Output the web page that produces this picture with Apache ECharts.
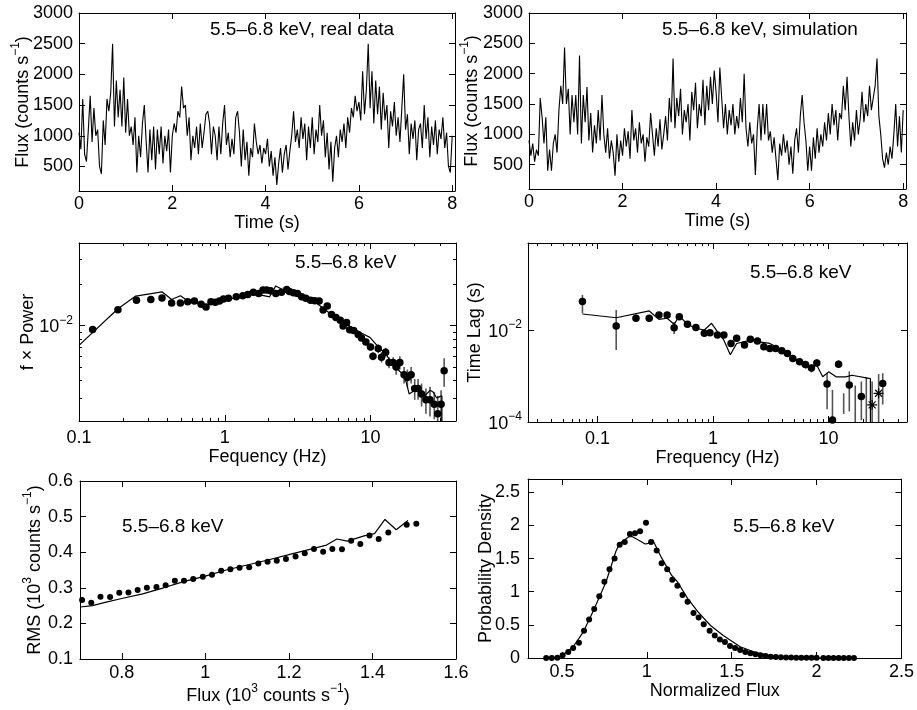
<!DOCTYPE html>
<html><head><meta charset="utf-8">
<script src="https://cdn.jsdelivr.net/npm/echarts@6/dist/echarts.min.js"></script>
<style>html,body{margin:0;padding:0;background:#fff}#c{width:917px;height:710px}</style>
</head><body><div id="c"></div>
<script>
// ---------- DATA ----------
const lcStep = 0.04; // s, sampling of the light curves
const lcReal = [1050,780,1600,700,580,1100,1650,900,1450,1000,
1100,500,380,1250,850,1600,1400,1700,2500,1150,
1900,1300,1750,1150,1950,1050,1600,1000,1150,850,
1300,400,1000,650,1200,1500,900,400,1100,600,
1150,450,1100,700,1150,550,1000,750,1100,400,
1000,1200,1050,1400,1300,1800,1450,1500,1000,1300,
600,1000,800,1150,700,1200,800,1050,1350,1400,
1200,700,1150,1000,600,1150,700,1200,1500,850,
1050,650,950,700,1300,1400,1050,500,1100,600,
900,350,800,650,1200,900,700,850,550,800,
700,950,500,750,350,650,200,550,800,400,
700,850,450,750,1000,1400,900,1100,800,1300,
950,1200,600,1150,800,1300,700,1100,900,1500,
1000,1250,650,1050,450,900,250,800,1000,650,
1100,900,1200,800,1300,1050,1450,1300,1650,1400,
1550,1250,2050,1350,1750,2500,1450,2050,1200,1900,
1350,1800,1100,1700,1250,1500,800,1400,1150,1550,
1000,1300,900,1450,2000,1100,1350,700,1200,950,
1250,600,1100,1200,800,1500,950,1300,650,1150,
850,1250,700,1100,950,1300,800,1050,500,400,
1000];
const lcSim = [900,650,850,550,750,650,1600,1280,850,1280,
400,750,400,850,1000,700,1400,1800,1500,2430,
1500,1750,1000,1650,1200,1650,1000,2300,850,1650,
1200,1780,900,1350,700,1150,850,1400,900,1650,
1000,700,1100,600,900,700,320,1000,550,900,
650,1100,800,1050,600,1400,900,1100,700,1200,
850,1000,550,950,800,1350,1000,650,1100,800,
1250,750,1000,1300,900,1600,1200,2250,1100,1600,
1300,1750,1000,1400,1200,1500,900,1700,1400,1850,
1100,1500,1300,1900,1150,1800,1400,1950,1500,2050,
1700,1200,2100,1600,1100,1500,1000,1400,1150,1500,
1000,1300,1100,1600,1200,2000,1100,800,1200,850,
1000,330,1100,1500,900,1500,1000,1500,900,1050,
700,950,600,250,850,650,1000,700,900,500,
800,350,900,1100,700,1300,1650,1200,900,400,
800,400,950,600,1100,700,1000,800,1200,900,
1350,1000,1500,1150,1400,900,1350,1250,1800,1400,
1950,1300,800,1200,900,1400,1000,1250,1700,1200,
1500,1300,1800,1400,1600,1800,2250,1300,1000,600,
450,700,500,800,600,1000,1500,800,1300,700,
1400];

const psdFreq = [0.124,0.185,0.248,0.311,0.371,0.432,0.496,0.557,0.619,0.688,0.744,0.804,0.861,0.92,0.98,1.06,1.20,1.33,1.44,1.57,1.71,1.83,1.94,2.06,2.24,2.45,2.66,2.78,2.96,3.15,3.37,3.60,3.88,4.14,4.44,4.73,5.05,5.40,5.79,6.20,6.49,6.85,7.20,7.66,8.23,8.67,9.30,10.0,10.4,11.3,11.9,12.7,13.4,14.3,15.0,15.9,17.0,17.9,19.0,20.1,21.2,22.4,24.0,25.6,27.4,28.9,30.5,32.0];
const psdPow = [0.00935,0.0130,0.0152,0.0154,0.0158,0.0145,0.0145,0.0148,0.0150,0.0142,0.0136,0.0148,0.0147,0.0150,0.0155,0.0157,0.0161,0.0164,0.0167,0.0174,0.0170,0.0180,0.0180,0.0178,0.0170,0.0174,0.0182,0.0176,0.0172,0.0170,0.0161,0.0157,0.0152,0.0151,0.0150,0.0129,0.0138,0.0120,0.0114,0.0109,0.0099,0.0105,0.0093,0.0092,0.0086,0.0081,0.0076,0.0070,0.0060,0.0068,0.0059,0.0064,0.0054,0.0054,0.0050,0.0054,0.0044,0.0042,0.0044,0.0035,0.0035,0.0032,0.0029,0.0029,0.0027,0.0023,0.0027,0.0047];
const psdErr = [0.0004,0.0004,0.0004,0.0004,0.0004,0.0004,0.0004,0.0004,0.0004,0.0004,
0.0004,0.0004,0.0004,0.0004,0.0004,0.0004,0.0004,0.0004,0.0004,0.0004,
0.0004,0.0004,0.0004,0.0004,0.0004,0.0004,0.0004,0.0004,0.0004,0.0004,
0.0004,0.0004,0.0004,0.0004,0.0004,0.0004,0.0004,0.0004,0.0004,0.0004,
0.0004,0.0004,0.0004,0.0004,0.0004,0.0004,0.0004,0.0004,0.0004,0.0005,
0.0005,0.0005,0.0005,0.0005,0.0006,0.0006,0.0006,0.0006,0.0006,0.0006,
0.0006,0.0006,0.0006,0.0007,0.0006,0.0008,0.0007,0.0011];
const psdModelFreq = [0.1,0.185,0.245,0.371,0.432,0.496,0.57,0.744,0.92,1.13,1.47,1.72,2.03,2.24,2.52,2.73,3.26,4.25,5.5,6.2,7.2,8.5,9.9,11.6,12.8,14.0,15.4,16.8,17.7,18.4,20.1,21.8,23.6,25.6,26.9,28.4,30.9,30.9];
const psdModelPow = [0.00718,0.0132,0.0163,0.0175,0.0154,0.0164,0.0148,0.0140,0.0148,0.0157,0.0166,0.0167,0.0161,0.0193,0.0180,0.0184,0.0166,0.0145,0.0118,0.0112,0.0099,0.0089,0.0082,0.0068,0.0062,0.0053,0.0048,0.0044,0.0038,0.0032,0.0034,0.0034,0.0031,0.0034,0.0033,0.0030,0.0031,0.0015];

const lagFreq = [0.074,0.145,0.215,0.28,0.34,0.40,0.46,0.51,0.60,0.71,0.84,0.94,1.09,1.24,1.43,1.60,1.87,2.10,2.42,2.75,3.10,3.48,3.93,4.40,4.90,5.60,6.30,7.10,7.90,9.7,10.8,12.2,15.1,19.2,29.4];
const lagVal = [0.0415,0.0122,0.0180,0.0180,0.0213,0.0213,0.0112,0.0195,0.0133,0.0114,0.00847,0.00874,0.00778,0.00778,0.00512,0.00659,0.00471,0.00627,0.00575,0.00432,0.00398,0.00398,0.00353,0.00310,0.00241,0.00204,0.00178,0.00150,0.00193,0.00067,0.00011,0.00181,0.00064,0.00036,0.00069];
const lagLo = [0.0231,0.0037,0.0150,0.0155,0.0185,0.0188,0.0082,0.0172,0.0118,0.0100,0.0072,0.0078,0.0070,0.0071,0.0045,0.0060,0.0043,0.0058,0.0053,0.0040,0.0037,0.0037,0.0033,0.0029,0.0022,0.0019,0.0016,0.0012,0.0016,0.00019,0.00003,0.0015,0.00017,0.00011,0.00024];
const lagHi = [0.058,0.0273,0.0220,0.0212,0.0245,0.0242,0.0150,0.0222,0.0150,0.0128,0.0098,0.0097,0.0086,0.0085,0.0058,0.0072,0.0051,0.0068,0.0062,0.0047,0.0043,0.0043,0.0038,0.0033,0.0026,0.0022,0.0020,0.0018,0.0023,0.00116,0.0005,0.0022,0.00126,0.00076,0.00115];
const lagBarFreq = [13.5,17.0,21.2];
const lagBarLo = [0.00015,0.00005,0.00005];
const lagBarHi = [0.00042,0.00062,0.00095];
const lagStarFreq = [23.8,27.1];
const lagStarVal = [0.000236,0.000421];
const lagStarLo = [0.00005,0.00005];
const lagStarHi = [0.00076,0.0011];
const lagModelFreq = [0.074,0.145,0.28,0.34,0.40,0.46,0.51,0.60,0.71,0.84,0.97,1.09,1.24,1.41,1.60,1.87,2.10,2.42,3.10,3.93,4.90,6.30,7.90,8.90,10.0,11.6,14.1,15.9,23.0,23.0];
const lagModelVal = [0.0223,0.0185,0.0260,0.0171,0.0180,0.0133,0.0202,0.0133,0.0109,0.0100,0.0140,0.0092,0.0060,0.0029,0.0051,0.0056,0.0060,0.0056,0.0051,0.0037,0.0026,0.0015,0.00172,0.00096,0.00123,0.00096,0.00096,0.00104,0.00088,0.00004];

const rmsFlux = [0.705,0.727,0.749,0.772,0.794,0.816,0.838,0.860,0.883,0.905,0.927,0.949,0.971,0.994,1.016,1.038,1.060,1.082,1.105,1.127,1.149,1.171,1.193,1.216,1.238,1.260,1.282,1.304,1.327,1.349,1.371,1.393,1.415,1.438,1.482,1.505];
const rmsVal = [0.266,0.258,0.275,0.274,0.286,0.287,0.294,0.300,0.302,0.307,0.320,0.320,0.325,0.331,0.337,0.348,0.352,0.356,0.358,0.368,0.373,0.376,0.381,0.388,0.397,0.409,0.401,0.409,0.408,0.432,0.423,0.447,0.437,0.455,0.477,0.480];
const rmsModelFlux = [0.70,0.73,0.76,0.80,0.85,0.90,0.95,1.00,1.05,1.10,1.15,1.20,1.25,1.29,1.315,1.34,1.38,1.405,1.43,1.457,1.485];
const rmsModelVal = [0.246,0.250,0.259,0.270,0.283,0.300,0.318,0.333,0.350,0.364,0.378,0.393,0.408,0.420,0.437,0.431,0.446,0.452,0.492,0.463,0.489];

const pdfX = [0.407,0.44,0.473,0.504,0.537,0.566,0.60,0.63,0.66,0.69,0.72,0.75,0.78,0.81,0.84,0.87,0.90,0.93,0.96,0.995,1.025,1.058,1.087,1.12,1.15,1.18,1.21,1.24,1.275,1.305,1.335,1.37,1.40,1.43,1.46,1.49,1.52,1.55,1.58,1.61,1.64,1.67,1.70,1.73,1.76,1.79,1.82,1.85,1.88,1.91,1.94,1.97,2.00,2.04,2.07,2.10,2.13,2.16,2.19,2.22];
const pdfY = [0,0,0.005,0.04,0.09,0.15,0.23,0.41,0.58,0.74,0.93,1.15,1.34,1.50,1.71,1.75,1.87,1.88,1.91,2.04,1.75,1.62,1.43,1.34,1.18,1.09,0.95,0.85,0.68,0.61,0.51,0.41,0.34,0.28,0.24,0.18,0.15,0.12,0.09,0.07,0.055,0.04,0.03,0.02,0.015,0.01,0.008,0.006,0.005,0.004,0.003,0.002,0.002,0.001,0.001,0.001,0.001,0,0,0];
const pdfModelX = [0.40,0.49,0.566,0.625,0.683,0.76,0.818,0.84,0.895,0.915,0.95,0.99,1.01,1.035,1.087,1.145,1.18,1.24,1.30,1.375,1.45,1.55,1.645,1.74,1.84,2.03,2.22];
const pdfModelY = [0,0.015,0.17,0.39,0.70,1.15,1.61,1.73,1.83,1.83,1.78,1.72,1.73,1.78,1.51,1.25,1.15,0.90,0.70,0.49,0.34,0.17,0.08,0.03,0.01,0,0];

// tick values
const tickTime = [0,2,4,6,8];
const tickFlux = [500,1000,1500,2000,2500,3000];
const tickLogX = [0.1,1,10];
const minorPsdX = [0.2,0.3,0.4,0.5,0.6,0.7,0.8,0.9,2,3,4,5,6,7,8,9,20,30];
const minorLagX = [0.03,0.04,0.05,0.06,0.07,0.08,0.09,0.2,0.3,0.4,0.5,0.6,0.7,0.8,0.9,2,3,4,5,6,7,8,9,20,30,40];
const tickPsdY = [0.01];
const minorPsdY = [0.003,0.004,0.005,0.006,0.007,0.008,0.009,0.02,0.03];
const tickLagY = [0.0001,0.01];
const tickRmsX = [0.8,1,1.2,1.4,1.6];
const tickRmsY = [0.1,0.2,0.3,0.4,0.5,0.6];
const tickPdfX = [0.5,1,1.5,2,2.5];
const tickPdfY = [0,0.5,1,1.5,2,2.5];
const bandLabel = '5.5–6.8 keV';

// ---------- BUILD ----------
const FONT = '"Liberation Sans", Arial, Helvetica, sans-serif';
const FS = 18;
const RICH = {
  b: {fontSize: FS, fontFamily: FONT, color: '#000', lineHeight: 22, verticalAlign: 'bottom'},
  sup: {fontSize: 12, fontFamily: FONT, color: '#000', lineHeight: 12, verticalAlign: 'top'}
};
const plainFmt = v => String(v);
const powFmt = v => { const e = Math.round(Math.log10(v)); return '{b|10}{sup|' + (e < 0 ? '−' : '') + Math.abs(e) + '}'; };
const grids = [], xAxes = [], yAxes = [], series = [], graphics = [];

function axisDef(c, gi, pos, main, minor, isY) {
  return {
    type: c.type, logBase: 10, gridIndex: gi, position: pos, min: c.min, max: c.max,
    axisLine: {show: !minor, onZero: false, lineStyle: {color: '#000', width: 1}},
    axisTick: {show: true, inside: true, length: minor ? 3 : 6, customValues: minor ? c.minor : c.ticks, lineStyle: {color: '#000', width: 1}},
    axisLabel: main ? {show: true, customValues: c.ticks, formatter: c.fmt || plainFmt, margin: c.margin, color: '#000', fontSize: FS, fontFamily: FONT, rich: RICH} : {show: false},
    splitLine: {show: false},
    name: main ? c.name : '', nameLocation: 'middle', nameGap: c.nameGap, nameMoveOverlap: !isY,
    nameTextStyle: {color: '#000', fontSize: FS, fontFamily: FONT, rich: RICH},
    z: 5
  };
}
function addPanel(g, xc, yc) {
  const gi = grids.length;
  grids.push({left: g[0], top: g[1], width: g[2], height: g[3], containLabel: false});
  const xi = xAxes.length, yi = yAxes.length;
  xAxes.push(axisDef(xc, gi, 'bottom', true, false, false));
  xAxes.push(axisDef(xc, gi, 'top', false, false, false));
  if (xc.minor) { xAxes.push(axisDef(xc, gi, 'bottom', false, true, false)); xAxes.push(axisDef(xc, gi, 'top', false, true, false)); }
  yAxes.push(axisDef(yc, gi, 'left', true, false, true));
  yAxes.push(axisDef(yc, gi, 'right', false, false, true));
  if (yc.minor) { yAxes.push(axisDef(yc, gi, 'left', false, true, true)); yAxes.push(axisDef(yc, gi, 'right', false, true, true)); }
  return {xAxisIndex: xi, yAxisIndex: yi};
}
function zip(a, b) { return a.map((v, i) => [v, b[i]]); }
function lineS(ax, data, w) {
  return Object.assign({type: 'line', data, symbol: 'none', clip: true, silent: true,
    lineStyle: {color: '#000', width: w || 1.2}, z: 3}, ax);
}
function dotS(ax, data, size) {
  return Object.assign({type: 'scatter', data, symbol: 'circle', symbolSize: size, clip: true, silent: true,
    itemStyle: {color: '#000', opacity: 1}, z: 4}, ax);
}
function errS(ax, data) {
  return Object.assign({type: 'custom', data, clip: true, silent: true, encode: {x: 0, y: [1, 2]}, z: 2,
    renderItem: (params, api) => {
      const a = api.coord([api.value(0), api.value(1)]);
      const b = api.coord([api.value(0), api.value(2)]);
      return {type: 'line', shape: {x1: a[0], y1: a[1], x2: b[0], y2: b[1]}, style: {stroke: '#555', lineWidth: 1.6}};
    }}, ax);
}
function note(x, y, text) {
  graphics.push({type: 'text', left: x, top: y, z: 10, style: {text, fill: '#000', font: '19px ' + FONT}});
}
const fluxName = '{b|Flux (counts s}{sup|−1}{b|)}';

// Panel 1: real light curve
const a1 = addPanel([79, 13, 376, 178],
  {type: 'value', min: 0, max: 8.06, ticks: tickTime, margin: 4, name: '{b|Time (s)}', nameGap: 15},
  {type: 'value', min: 100, max: 3000, ticks: tickFlux, margin: 6, name: fluxName, nameGap: 47});
series.push(lineS(a1, lcReal.map((v, i) => [i * lcStep, v]), 1.1));
note(210, 20, bandLabel + ', real data');

// Panel 2: simulated light curve
const a2 = addPanel([529, 13, 377, 176],
  {type: 'value', min: 0, max: 8.06, ticks: tickTime, margin: 4, name: '{b|Time (s)}', nameGap: 17},
  {type: 'value', min: 100, max: 3000, ticks: tickFlux, margin: 6, name: fluxName, nameGap: 48});
series.push(lineS(a2, lcSim.map((v, i) => [i * lcStep, v]), 1.1));
note(662, 20, bandLabel + ', simulation');

// Panel 3: f x Power
const a3 = addPanel([79, 243, 377, 178],
  {type: 'log', min: 0.1, max: 38.6, ticks: tickLogX, minor: minorPsdX, margin: 8, name: '{b|Fequency (Hz)}', nameGap: 16},
  {type: 'log', min: 0.00204, max: 0.0394, ticks: tickPsdY, minor: minorPsdY, margin: 6, fmt: powFmt, name: '{b|f × Power}', nameGap: 42});
series.push(errS(a3, psdFreq.map((f, i) => [f, psdPow[i] - psdErr[i], psdPow[i] + psdErr[i]])));
series.push(lineS(a3, zip(psdModelFreq, psdModelPow), 1.2));
series.push(dotS(a3, zip(psdFreq, psdPow), 7.5));
note(295, 253, bandLabel);

// Panel 4: time lag
const a4 = addPanel([528, 243, 379, 179],
  {type: 'log', min: 0.025, max: 47.7, ticks: tickLogX, minor: minorLagX, margin: 8, name: '{b|Frequency (Hz)}', nameGap: 17},
  {type: 'log', min: 0.0001, max: 0.78, ticks: tickLagY, margin: 6, fmt: powFmt, name: '{b|Time Lag (s)}', nameGap: 44});
series.push(errS(a4, lagFreq.map((f, i) => [f, lagLo[i], lagHi[i]])));
series.push(errS(a4, lagBarFreq.map((f, i) => [f, lagBarLo[i], lagBarHi[i]])));
series.push(errS(a4, lagStarFreq.map((f, i) => [f, lagStarLo[i], lagStarHi[i]])));
series.push(lineS(a4, zip(lagModelFreq, lagModelVal), 1.2));
series.push(dotS(a4, zip(lagFreq, lagVal), 7.5));
series.push(Object.assign({type: 'scatter', data: zip(lagStarFreq, lagStarVal), clip: true, silent: true,
  symbol: 'path://M5,0L5,10M0,5L10,5M1.5,1.5L8.5,8.5M8.5,1.5L1.5,8.5', symbolSize: 10,
  itemStyle: {color: 'rgba(0,0,0,0)', borderColor: '#000', borderWidth: 1.2, opacity: 1}, z: 4}, a4));
note(750, 263, bandLabel);

// Panel 5: rms-flux
const a5 = addPanel([80, 481, 376, 178],
  {type: 'value', min: 0.7, max: 1.6, ticks: tickRmsX, margin: 5, name: '{b|Flux (10}{sup|3}{b| counts s}{sup|−1}{b|)}', nameGap: 18},
  {type: 'value', min: 0.1, max: 0.6, ticks: tickRmsY, margin: 7, name: '{b|RMS (10}{sup|3}{b| counts s}{sup|−1}{b|)}', nameGap: 36});
series.push(lineS(a5, zip(rmsModelFlux, rmsModelVal), 1.2));
series.push(dotS(a5, zip(rmsFlux, rmsVal), 6));
note(122, 517, bandLabel);

// Panel 6: flux distribution
const a6 = addPanel([528, 479, 379, 179],
  {type: 'value', min: 0.3, max: 2.5, ticks: tickPdfX, margin: 5, name: '{b|Normalized Flux}', nameGap: 14},
  {type: 'value', min: 0, max: 2.7, ticks: tickPdfY, margin: 8, name: '{b|Probability Density}', nameGap: 33});
series.push(lineS(a6, zip(pdfModelX, pdfModelY), 1.2));
series.push(dotS(a6, zip(pdfX, pdfY), 6));
note(733, 517, bandLabel);

const chart = echarts.init(document.getElementById('c'), null, {renderer: 'canvas'});
chart.setOption({
  backgroundColor: '#fff', animation: false,
  grid: grids, xAxis: xAxes, yAxis: yAxes, series, graphic: graphics
});
</script></body></html>
